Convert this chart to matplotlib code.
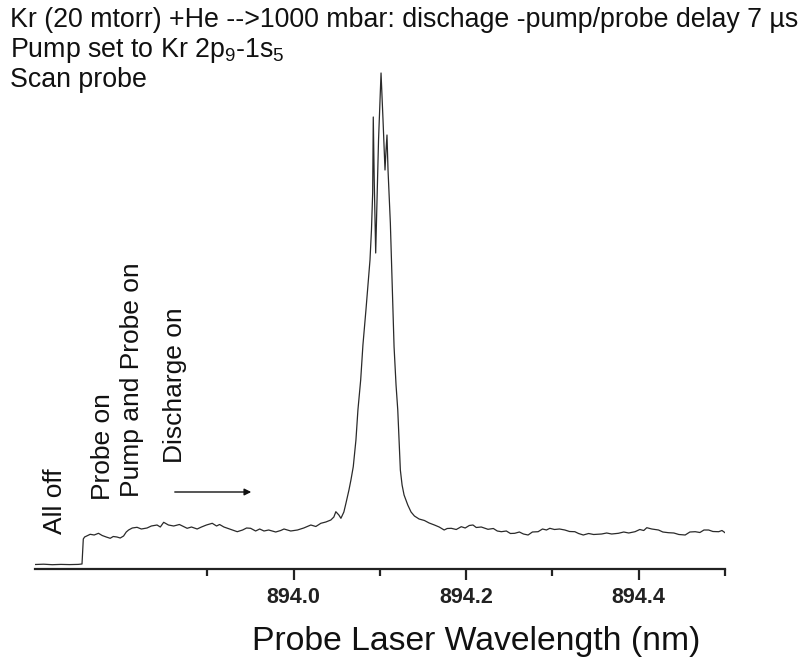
import matplotlib
matplotlib.use("Agg")
import matplotlib.pyplot as plt

plt.rcParams['font.family'] = ['Liberation Sans', 'DejaVu Sans']
plt.rcParams['mathtext.fontset'] = 'custom'
plt.rcParams['mathtext.rm'] = 'Liberation Sans'

# ---------------- data ----------------
wavelength = [
    893.700, 893.710, 893.720, 893.730, 893.740, 893.750, 893.7545, 893.7560, 893.7575,
    893.7640, 893.7686, 893.7736, 893.7779, 893.7826, 893.7872, 893.7907, 893.7950,
    893.7988, 893.8027, 893.8058, 893.8085, 893.8128, 893.8183, 893.8233, 893.8299,
    893.8349, 893.8415, 893.8453, 893.8492, 893.8547, 893.8608, 893.8674, 893.8764,
    893.8814, 893.8880, 893.8930, 893.8988, 893.9055, 893.9105, 893.9140, 893.9190,
    893.9256, 893.9345, 893.9407, 893.9453, 893.9500, 893.9558, 893.9605, 893.9655,
    893.9709, 893.9791, 893.9849, 893.9887, 893.9965, 894.0043, 894.0116, 894.0198,
    894.0256, 894.0314, 894.0372, 894.0430, 894.0465, 894.0488, 894.0523, 894.0547,
    894.0581, 894.0605,
    894.0640, 894.0663, 894.0690, 894.0721, 894.0744, 894.0776, 894.0802, 894.0837,
    894.0860, 894.0884, 894.0901, 894.0915, 894.0922, 894.0933, 894.0950, 894.0965,
    894.0983, 894.1012, 894.1035, 894.1058, 894.1070, 894.1081, 894.1093, 894.1120,
    894.1140, 894.1163, 894.1186, 894.1206, 894.1221, 894.1236, 894.1256, 894.1279,
    894.1322, 894.1360, 894.1399, 894.1453, 894.1515, 894.1570, 894.1631, 894.1686,
    894.1744, 894.1779, 894.1826, 894.1884, 894.1942, 894.1988, 894.2035, 894.2078,
    894.2116, 894.2174, 894.2252, 894.2314, 894.2360, 894.2407, 894.2465, 894.2512,
    894.2562, 894.2616, 894.2663, 894.2717, 894.2767, 894.2833, 894.2884, 894.2930,
    894.2969, 894.3023, 894.3081, 894.3143, 894.3198, 894.3259, 894.3302, 894.3357,
    894.3419, 894.3477, 894.3570, 894.3628, 894.3686, 894.3764, 894.3826, 894.3884,
    894.3957, 894.4012, 894.4058, 894.4093, 894.4151, 894.4229, 894.4279, 894.4345,
    894.4407, 894.4465, 894.4538, 894.4593, 894.4655, 894.4709, 894.4756, 894.4810,
    894.4860, 894.4927, 894.4965, 894.5000,
]
intensity = [
    4.5, 4.8, 4.3, 4.6, 4.4, 4.6, 5.0, 30.0, 32.0,
    34.7, 34.0, 35.7, 33.5, 32.0, 30.7, 32.5, 32.0,
    31.0, 33.0, 37.0, 39.0, 41.0, 41.7, 40.0, 41.0,
    43.0, 44.0, 42.0, 46.7, 44.0, 43.0, 44.5, 40.7,
    42.0, 40.0, 42.0, 44.0, 45.7, 43.0, 44.5, 42.0,
    40.0, 37.3, 39.0, 41.0, 40.7, 38.0, 40.0, 38.0,
    39.0, 37.0, 38.5, 40.0, 38.0, 39.0, 41.0, 44.0,
    42.5, 45.7, 47.0, 49.0, 52.0, 57.3, 54.0, 50.7,
    57.0, 65.7,
    79.0, 89.0, 102.3, 129.0, 159.0, 189.0, 224.0, 259.0,
    284.0, 309.0, 339.0, 376.0, 452.0, 389.0, 316.0, 369.0,
    429.0, 496.0, 449.0, 399.0, 419.0, 434.0, 399.0, 346.0,
    289.0, 222.3, 184.0, 159.0, 129.0, 99.0, 84.0, 74.0,
    64.0, 57.0, 53.0, 50.0, 48.5, 46.0, 44.0, 42.0,
    39.0, 40.5, 40.7, 39.5, 42.3, 41.0, 43.5, 44.0,
    41.5, 42.0, 39.7, 40.5, 38.0, 37.3, 38.0, 35.5,
    35.7, 37.0, 35.0, 34.0, 37.0, 37.3, 40.0, 39.0,
    40.7, 39.5, 40.0, 39.0, 37.5, 37.3, 35.5, 34.0,
    35.5, 34.5, 35.0, 36.0, 35.0, 35.7, 37.0, 36.0,
    37.3, 39.5, 38.5, 41.3, 40.0, 39.0, 37.0, 36.3,
    36.0, 34.5, 34.0, 37.0, 37.3, 36.5, 39.0, 39.0,
    37.5, 37.3, 38.5, 36.3,
]
major_ticks = [894.0, 894.2, 894.4]
major_labels = ["894.0", "894.2", "894.4"]
minor_ticks = [893.9, 894.1, 894.3, 894.5]

title_lines = [
    "Kr (20 mtorr) +He -->1000 mbar: dischage -pump/probe delay 7 \u00b5s",
    r"Pump set to Kr 2p$_\mathregular{9}$-1s$_\mathregular{5}$",
    "Scan probe",
]
annotations = ["All off", "Probe on", "Pump and Probe on", "Discharge on"]
xlabel = "Probe Laser Wavelength (nm)"

# ---------------- figure ----------------
W, H = 807, 664
fig = plt.figure(figsize=(W / 100, H / 100), dpi=100)
fig.patch.set_facecolor("white")

def fx(px):
    return px / W

def fy(py):
    return 1 - py / H

ax = fig.add_axes([fx(35), fy(569), fx(725) - fx(35), fy(60) - fy(569)])
ax.plot(wavelength, intensity, color="#2a2a2a", lw=0.9)
ax.set_xlim(893.7, 894.5)
ax.set_ylim(0, 509)

for s in ["left", "right", "top"]:
    ax.spines[s].set_visible(False)
ax.spines["bottom"].set_linewidth(1.6)
ax.spines["bottom"].set_color("#222222")
ax.set_yticks([])
ax.set_xticks(major_ticks)
ax.set_xticklabels(major_labels, fontsize=15.5, fontweight="bold")
ax.set_xticks(minor_ticks, minor=True)
ax.tick_params(axis="x", which="major", length=8, width=1.6, direction="out", pad=5, colors="#222222")
ax.tick_params(axis="x", which="minor", length=5, width=1.6, direction="out", colors="#222222")

# titles
ybases = [27, 57, 87]
for t, yb in zip(title_lines, ybases):
    fig.text(fx(10), fy(yb), t, fontsize=19.3, ha="left", va="baseline", color="#111111")

# x label
fig.text(fx(476), fy(650), xlabel, fontsize=24.3, ha="center", va="baseline", color="#111111")

# rotated annotations: (left px, bottom px)
ann_pos = [(43, 534), (91, 500), (120, 497), (163, 463)]
for t, (px, py) in zip(annotations, ann_pos):
    fig.text(fx(px), fy(py), t, fontsize=19, rotation=90, ha="left", va="bottom", color="#111111")

# arrow
ax.annotate("", xy=(fx(254), fy(492)), xytext=(fx(172), fy(492)),
            xycoords="figure fraction", textcoords="figure fraction",
            arrowprops=dict(arrowstyle="-|>", lw=1.0, color="#111111", mutation_scale=10))

fig.savefig("out.png", dpi=100, facecolor="white")
